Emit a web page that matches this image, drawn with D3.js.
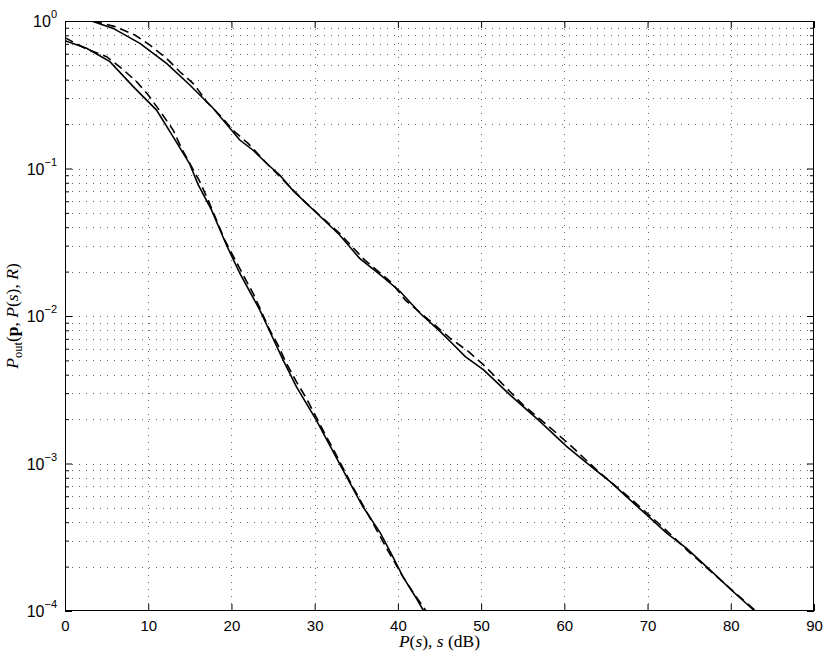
<!DOCTYPE html>
<html><head><meta charset="utf-8">
<script src="https://cdn.jsdelivr.net/npm/d3@7"></script>
<style>body{margin:0;background:#fff}svg{display:block}</style>
</head><body>
<svg id="chart" width="830" height="661"></svg>
<script>
// ---------- data ----------
const xTicks = [0, 10, 20, 30, 40, 50, 60, 70, 80, 90];
const yDecades = [1e-4, 1e-3, 1e-2, 1e-1, 1];
const yExponents = ["−4", "−3", "−2", "−1", "0"];

// left pair of curves (solid and dashed)
const solidA = [[0,0.735],[2.6,0.653],[5.4,0.530],[8.2,0.359],[11.0,0.249],[13.0,0.164],[15.0,0.107],[16.0,0.0776],[17.6,0.0524],[19.4,0.0303],[21.0,0.0195],[23.4,0.0110],[24.4,0.00832],[26.2,0.00504],[27.8,0.00332],[30.2,0.00197],[31.8,0.00133],[33.6,0.000859],[35.8,0.000509],[37.9,0.000337],[39.4,0.000233],[40.6,0.000171],[42.1,0.000125],[43.1,0.0001]];
const dashedA = [[0,0.771],[2.4,0.653],[5.0,0.573],[6.8,0.478],[8.6,0.388],[10.0,0.315],[11.6,0.237],[13.0,0.182],[14.0,0.137],[15.2,0.103],[16.2,0.0815],[17.2,0.0611],[18.2,0.0448],[19.2,0.0327],[21.4,0.0190],[22.6,0.01426],[24.6,0.00804],[25.6,0.00635],[26.6,0.00478],[27.8,0.00359],[29.0,0.00277],[31.2,0.00160],[32.4,0.00120],[34.5,0.000708],[37.0,0.000394],[38.8,0.000257],[40.6,0.000171],[41.9,0.000132],[43.4,0.0001]];
// right pair of curves (solid and dashed)
const solidB = [[3.2,1.0],[5.8,0.891],[9.0,0.706],[12.2,0.516],[15.0,0.368],[17.8,0.256],[21.0,0.156],[22.6,0.133],[24.4,0.106],[25.8,0.0904],[27.4,0.0708],[30.2,0.0501],[33.0,0.0354],[35.4,0.0246],[37.9,0.0190],[40.3,0.0146],[42.7,0.0104],[45.1,0.00783],[46.6,0.00646],[48.1,0.00530],[50.3,0.00431],[53.5,0.00291],[57.1,0.00192],[60.3,0.00130],[63.5,0.000927],[65.5,0.000753],[67.9,0.000566],[69.9,0.000448],[72.3,0.000337],[74.7,0.000266],[77.5,0.000190],[80.3,0.000135],[82.7,0.000102],[82.8,0.0001]];
const dashedB = [[3.4,1.0],[6.0,0.916],[8.4,0.804],[10.2,0.687],[12.2,0.558],[13.8,0.453],[15.6,0.368],[17.0,0.284],[18.8,0.224],[20.4,0.177],[22.0,0.148],[24.0,0.112],[27.0,0.0753],[28.8,0.0596],[33.0,0.0363],[36.0,0.0240],[39.3,0.0167],[40.9,0.0128],[44.0,0.00912],[46.3,0.00706],[48.5,0.00573],[50.3,0.00466],[51.9,0.00378],[55.0,0.00251],[59.1,0.00160],[60.9,0.00130],[64.0,0.000891],[68.0,0.000575],[72.0,0.000363],[75.0,0.000251],[79.0,0.000158],[83.0,0.0001]];

// ---------- layout ----------
const L = 65, R = 814, T = 21, B = 611;
const svg = d3.select("#chart");
const x = d3.scaleLinear().domain([0, 90]).range([L, R]);
const y = d3.scaleLog().domain([1e-4, 1]).range([B, T]);

svg.append("rect").attr("width", 830).attr("height", 661).attr("fill", "#fff");

// minor y values
const yMinor = [];
for (let d = 0; d < 4; d++) for (let m = 2; m <= 9; m++) yMinor.push(m * yDecades[d]);

// grid
const grid = svg.append("g").attr("stroke", "#666").attr("stroke-width", 1)
  .attr("stroke-dasharray", "1,6").attr("fill", "none");
grid.selectAll("line.gx").data(xTicks.filter(t => t > 0 && t < 90)).join("line")
  .attr("x1", d => Math.round(x(d)) + 0.5).attr("x2", d => Math.round(x(d)) + 0.5)
  .attr("y1", B).attr("y2", T);
grid.selectAll("line.gy").data(yDecades.slice(1, 4).concat(yMinor)).join("line")
  .attr("y1", d => Math.round(y(d)) + 0.5).attr("y2", d => Math.round(y(d)) + 0.5)
  .attr("x1", L).attr("x2", R);

// curves
svg.append("clipPath").attr("id", "clip").append("rect")
  .attr("x", L).attr("y", T).attr("width", R - L).attr("height", B - T);
const line = d3.line().x(d => x(d[0])).y(d => y(d[1]));
const curves = svg.append("g").attr("clip-path", "url(#clip)")
  .attr("fill", "none").attr("stroke", "#000").attr("stroke-width", 1.6);
[[solidA, null], [solidB, null], [dashedA, "9,5"], [dashedB, "9,5"]].forEach(([data, dash]) => {
  const p = curves.append("path").datum(data).attr("d", line);
  if (dash) p.attr("stroke-dasharray", dash);
});

// axes (ticks inward)
const axisStyle = g => { g.select(".domain").remove(); g.selectAll("line").attr("stroke", "#000"); };
svg.append("g").attr("transform", `translate(0,${B})`)
  .call(d3.axisBottom(x).tickValues(xTicks).tickSize(-7).tickPadding(9).tickFormat(d3.format("d")))
  .call(axisStyle)
  .call(g => g.selectAll("text").attr("font-family", "Liberation Sans, Arial, sans-serif")
    .attr("font-size", 15).attr("fill", "#000"));
svg.append("g").attr("transform", `translate(0,${T})`)
  .call(d3.axisTop(x).tickValues(xTicks).tickSize(-7).tickFormat(""))
  .call(axisStyle);
svg.append("g").attr("transform", `translate(${L},0)`)
  .call(d3.axisLeft(y).tickValues(yDecades).tickSize(-7).tickFormat(""))
  .call(axisStyle);
svg.append("g").attr("transform", `translate(${L},0)`)
  .call(d3.axisLeft(y).tickValues(yMinor).tickSize(-4).tickFormat(""))
  .call(axisStyle);
svg.append("g").attr("transform", `translate(${R},0)`)
  .call(d3.axisRight(y).tickValues(yDecades).tickSize(-7).tickFormat(""))
  .call(axisStyle);
svg.append("g").attr("transform", `translate(${R},0)`)
  .call(d3.axisRight(y).tickValues(yMinor).tickSize(-4).tickFormat(""))
  .call(axisStyle);

// box
svg.append("rect").attr("x", L + 0.5).attr("y", T + 0.5).attr("width", R - L - 1).attr("height", B - T - 1)
  .attr("fill", "none").attr("stroke", "#000").attr("stroke-width", 1);

// y tick labels 10^k
const yl = svg.append("g").attr("font-family", "Liberation Sans, Arial, sans-serif").attr("fill", "#000");
yDecades.forEach((v, i) => {
  const t = yl.append("text").attr("x", L - 8).attr("y", y(v) + 6).attr("text-anchor", "end");
  t.append("tspan").attr("font-size", 16).text("10");
  t.append("tspan").attr("font-size", 11).attr("dy", -9).text(yExponents[i]);
});

// axis titles
const serif = "Liberation Serif, Times New Roman, serif";
const xt = svg.append("text").attr("x", (L + R) / 2).attr("y", 647).attr("text-anchor", "middle")
  .attr("font-family", serif).attr("font-size", 17.5).attr("fill", "#000");
xt.append("tspan").attr("font-style", "italic").text("P");
xt.append("tspan").text("(");
xt.append("tspan").attr("font-style", "italic").text("s");
xt.append("tspan").text("), ");
xt.append("tspan").attr("font-style", "italic").text("s");
xt.append("tspan").text(" (dB)");

const yt = svg.append("text").attr("transform", `translate(18,${(T + B) / 2}) rotate(-90)`)
  .attr("text-anchor", "middle").attr("font-family", serif).attr("font-size", 17.5).attr("fill", "#000");
yt.append("tspan").attr("font-style", "italic").text("P");
yt.append("tspan").attr("font-size", 12.5).attr("dy", 4).text("out");
yt.append("tspan").attr("dy", -4).text("(");
yt.append("tspan").attr("font-weight", "bold").text("p");
yt.append("tspan").text(", ");
yt.append("tspan").attr("font-style", "italic").text("P");
yt.append("tspan").text("(");
yt.append("tspan").attr("font-style", "italic").text("s");
yt.append("tspan").text("), ");
yt.append("tspan").attr("font-style", "italic").text("R");
yt.append("tspan").text(")");
</script>
</body></html>
